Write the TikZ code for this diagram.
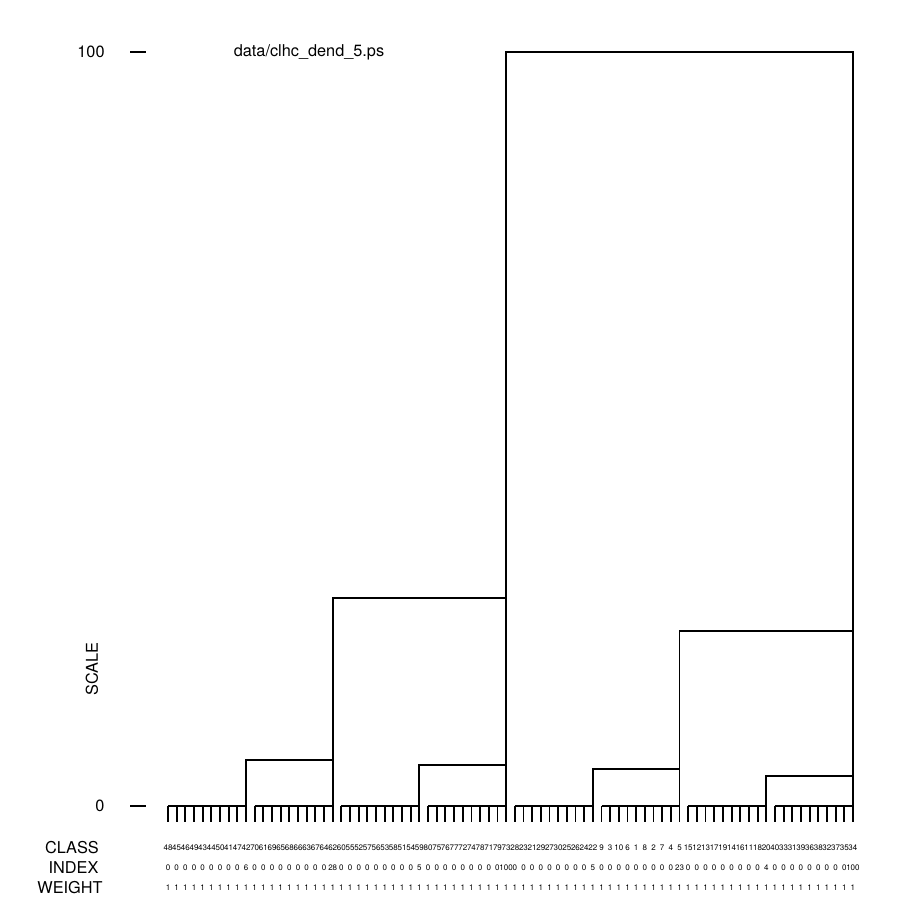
\documentclass[tikz,border=0pt]{standalone}
\usepackage{fontspec}
\setmainfont{TeX Gyre Heros}
\begin{document}
\begin{tikzpicture}[x=1pt,y=-1pt,
  dline/.style={line width=1.9pt, line join=miter},
  bigtxt/.style={font=\fontsize{16.3}{18}\selectfont, inner sep=0pt},
  leaftxt/.style={font=\fontsize{8}{9}\selectfont, inner sep=0pt}]
\fill[white] (0,0) rectangle (907,919);
\useasboundingbox (0,0) rectangle (907,919);
% axis
\node[bigtxt] (t100) at (91,52) {100};
\node[bigtxt] (t0) at (100,806) {0};
\coordinate (a1) at (130,52); \coordinate (a2) at (146,52);
\coordinate (b1) at (130,806); \coordinate (b2) at (146,806);
\draw[dline] (a1) -- (a2);
\draw[dline] (b1) -- (b2);
\node[bigtxt, rotate=90] (scale) at (92,669) {SCALE};
\node[bigtxt] (title) at (309,52) {data/clhc\_dend\_5.ps};
\node[bigtxt] (cls) at (72,848) {CLASS};
\node[bigtxt] (idx) at (73.5,868) {INDEX};
\node[bigtxt] (wgt) at (70,888) {WEIGHT};
% leaves
\foreach \g in {0,...,7}{
  \draw[dline] ({168+10*\g*8.67},806) -- ({168+(10*\g+9)*8.67},806);
}
\foreach \i in {0,...,79}{
  \draw[dline] ({168+\i*8.67},806) -- ({168+\i*8.67},822);
}
% group end coordinates
\foreach \g in {0,...,7}{
  \coordinate (L\g) at ({168+(10*\g+9)*8.67},806);
}
% merges
\draw[dline] (L0) -- ++(0,-46) coordinate (m01) -| (L1);
\draw[dline] (L2) -- ++(0,-41) coordinate (m23) -| (L3);
\draw[dline] (L4) -- ++(0,-37) coordinate (m45) -| (L5);
\draw[dline] (L6) -- ++(0,-30) coordinate (m67) -| (L7);
\draw[dline] (L1 |- m01) -- (L1 |- 0,598) -| (L3 |- m23);
\draw[dline] (L5 |- m45) -- (L5 |- 0,631) -| (L7 |- m67);
\draw[dline] (L3 |- 0,598) -- (L3 |- 0,52) -| (L7 |- 0,631);
% labels
\foreach \c [count=\i from 0] in {48,45,46,49,43,44,50,41,47,42,
70,61,69,65,68,66,63,67,64,62,
60,55,52,57,56,53,58,51,54,59,
80,75,76,77,72,74,78,71,79,73,
28,23,21,29,27,30,25,26,24,22,
9,3,10,6,1,8,2,7,4,5,
15,12,13,17,19,14,16,11,18,20,
40,33,31,39,36,38,32,37,35,34}{
  \node[leaftxt] (c\i) at ({168+\i*8.67},848) {\c};
  \node[leaftxt] (w\i) at ({168+\i*8.67},888) {1};
}
\foreach \v [count=\i from 0] in {0,0,0,0,0,0,0,0,0,6,
0,0,0,0,0,0,0,0,0,28,
0,0,0,0,0,0,0,0,0,5,
0,0,0,0,0,0,0,0,0,100,
0,0,0,0,0,0,0,0,0,5,
0,0,0,0,0,0,0,0,0,23,
0,0,0,0,0,0,0,0,0,4,
0,0,0,0,0,0,0,0,0,100}{
  \node[leaftxt] (x\i) at ({168+\i*8.67},868) {\v};
}
\end{tikzpicture}
\end{document}
